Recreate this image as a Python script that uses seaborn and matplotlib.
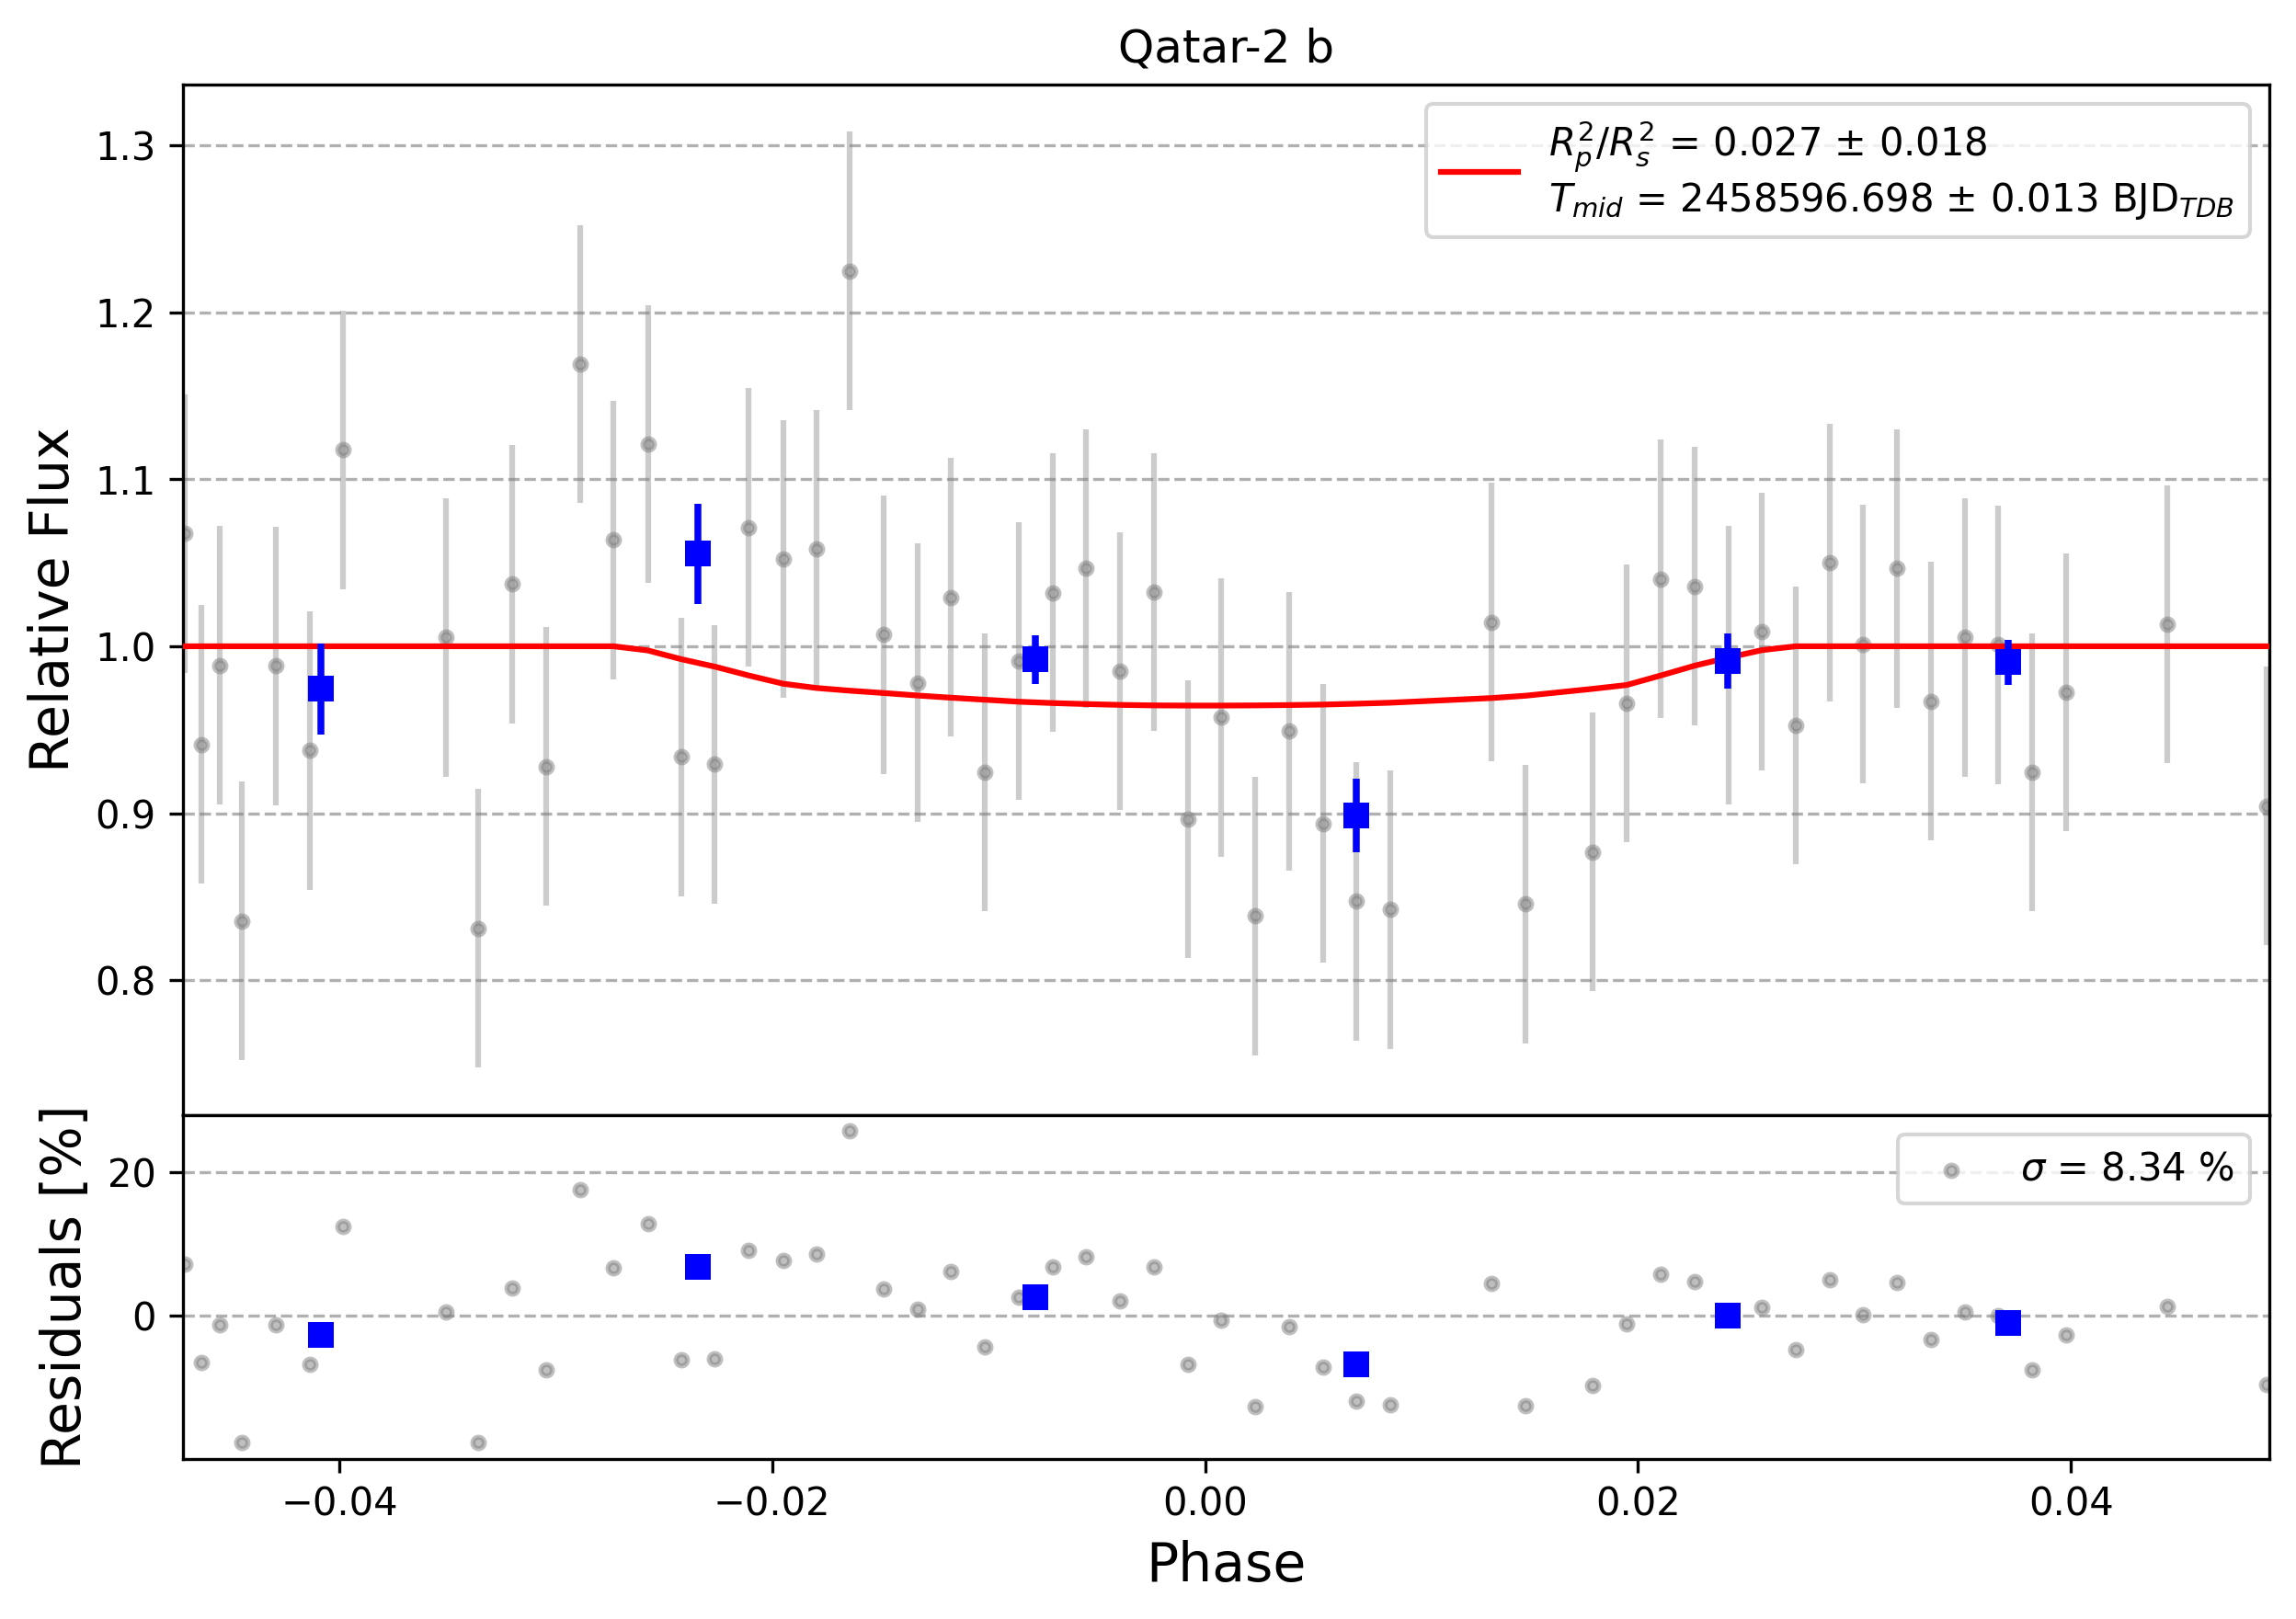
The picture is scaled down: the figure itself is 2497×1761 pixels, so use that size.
import numpy as np
import pandas as pd
import matplotlib
matplotlib.use("Agg")
import matplotlib.pyplot as plt
import seaborn as sns

# ---------------- data ----------------
phase = [-0.04715, -0.04635, -0.04550, -0.04449, -0.04291, -0.04135, -0.03983,
         -0.03508, -0.03357, -0.03201, -0.03042, -0.02886, -0.02733, -0.02574,
         -0.02418, -0.02265, -0.02108, -0.01950, -0.01794, -0.01640, -0.01484,
         -0.01326, -0.01174, -0.01018, -0.00860, -0.00704, -0.00550, -0.00392,
         -0.00236, -0.00078, 0.00074, 0.00232, 0.00388, 0.00544, 0.00698,
         0.00854, 0.01324, 0.01481, 0.01790, 0.01947, 0.02105, 0.02262,
         0.02417, 0.02573, 0.02729, 0.02886, 0.03040, 0.03195, 0.03353,
         0.03510, 0.03661, 0.03821, 0.03977, 0.04445, 0.04905]

flux = [1.0675, 0.9412, 0.9886, 0.8355, 0.9882, 0.9377, 1.1175,
        1.0053, 0.8311, 1.0373, 0.9281, 1.1689, 1.0636, 1.1211,
        0.9338, 0.9294, 1.0711, 1.0522, 1.0583, 1.2246, 1.0070,
        0.9781, 1.0294, 0.9246, 0.9912, 1.0320, 1.0465, 0.9851,
        1.0325, 0.8965, 0.9575, 0.8386, 0.9491, 0.8939, 0.8474,
        0.8425, 1.0145, 0.8458, 0.8768, 0.9658, 1.0404, 1.0360,
        0.9886, 1.0088, 0.9526, 1.0500, 1.0013, 1.0465, 0.9671,
        1.0053, 1.0009, 0.9246, 0.9724, 1.0132, 0.9044]

flux_err = 0.0833

model_flux = [1.0, 1.0, 1.0, 1.0, 1.0, 1.0, 1.0,
              1.0, 1.0, 1.0, 1.0, 1.0, 1.0, 0.9975,
              0.9922, 0.9878, 0.9825, 0.9776, 0.9750, 0.9734, 0.9720,
              0.9705, 0.9692, 0.9680, 0.9668, 0.9660, 0.9654, 0.9649,
              0.9646, 0.9645, 0.9645, 0.9646, 0.9648, 0.9651, 0.9656,
              0.9662, 0.9690, 0.9704, 0.9745, 0.9768, 0.9825, 0.9884,
              0.9932, 0.9977, 1.0, 1.0, 1.0, 1.0, 1.0,
              1.0, 1.0, 1.0, 1.0, 1.0, 1.0]

residual = [7.11, -6.51, -1.28, -17.73, -1.28, -6.77, 12.42,
            0.47, -17.73, 3.81, -7.62, 17.56, 6.64, 12.80,
            -6.21, -6.08, 9.08, 7.66, 8.61, 25.78, 3.73,
            0.90, 6.17, -4.41, 2.57, 6.77, 8.22, 2.01,
            6.77, -6.85, -0.69, -12.76, -1.58, -7.24, -11.99,
            -12.50, 4.45, -12.63, -9.76, -1.16, 5.78, 4.75,
            -0.40, 1.16, -4.75, 5.01, 0.13, 4.62, -3.34,
            0.47, 0.04, -7.58, -2.70, 1.24, -9.63]

bin_phase = [-0.04084, -0.02343, -0.00784, 0.00699, 0.02415, 0.03710]
bin_flux = [0.9746, 1.0553, 0.9921, 0.8987, 0.9912, 0.9904]
bin_err = [0.0272, 0.0298, 0.0145, 0.0222, 0.0167, 0.0136]
bin_residual = [-2.74, 6.77, 2.53, -6.85, -0.04, -1.07]

title = "Qatar-2 b"
fit_label = ("$R_{p}^{2}/R_{s}^{2}$ = 0.027 ± 0.018\n"
             "$T_{mid}$ = 2458596.698 ± 0.013 BJD$_{TDB}$")
sigma_label = r"$\sigma$ = 8.34 %"

# ---------------- plotting ----------------
df = pd.DataFrame({"phase": phase, "flux": flux, "model": model_flux,
                   "residual": residual})
dfb = pd.DataFrame({"phase": bin_phase, "flux": bin_flux, "err": bin_err,
                    "residual": bin_residual})

W, H, DPI = 2497, 1761, 300
fig, (ax1, ax2) = plt.subplots(2, 1, figsize=(W / DPI, H / DPI), dpi=DPI,
                               sharex=True,
                               gridspec_kw={"height_ratios": [3, 1]})
fig.subplots_adjust(left=199 / W, right=2467.5 / W, top=1 - 92 / H,
                    bottom=1 - 1586.7 / H, hspace=0)

# top panel
ax1.errorbar(df["phase"], df["flux"], yerr=flux_err, fmt="none",
             ecolor="gray", elinewidth=1.5, alpha=0.4, zorder=1)
sns.scatterplot(data=df, x="phase", y="flux", ax=ax1, color="gray",
                edgecolor="gray", s=9, linewidth=1.3, alpha=0.5, zorder=2,
                legend=False)
sns.lineplot(data=df, x="phase", y="model", ax=ax1, color="red",
             linewidth=1.5, sort=False, label=fit_label, zorder=3)
ax1.errorbar(dfb["phase"], dfb["flux"], yerr=dfb["err"], fmt="none",
             ecolor="blue", elinewidth=1.8, zorder=4)
sns.scatterplot(data=dfb, x="phase", y="flux", ax=ax1, color="blue",
                marker="s", s=48, linewidth=0, zorder=5, legend=False)

ax1.set_xlim(-0.047216, 0.04914)
ax1.set_ylim(0.7193, 1.3362)
ax1.set_yticks([0.8, 0.9, 1.0, 1.1, 1.2, 1.3])
ax1.grid(axis="y", linestyle="--")
ax1.set_axisbelow(True)
ax1.set_ylabel("Relative Flux", fontsize=14)
ax1.set_xlabel("")
ax1.set_title(title, fontsize=12)
ax1.legend(loc="upper right", fontsize=10)
ax1.tick_params(axis="x", labelbottom=False)

# bottom panel
sns.scatterplot(data=df, x="phase", y="residual", ax=ax2, color="gray",
                edgecolor="gray", s=9, linewidth=1.3, alpha=0.5, zorder=2,
                label=sigma_label)
sns.scatterplot(data=dfb, x="phase", y="residual", ax=ax2, color="blue",
                marker="s", s=48, linewidth=0, zorder=5, legend=False)
ax2.set_ylim(-20.0, 27.96)
ax2.set_yticks([0, 20])
ax2.set_xticks([-0.04, -0.02, 0.00, 0.02, 0.04])
ax2.set_xticklabels(["\u22120.04", "\u22120.02", "0.00", "0.02", "0.04"])
ax2.grid(axis="y", linestyle="--")
ax2.set_axisbelow(True)
ax2.set_ylabel("Residuals [%]", fontsize=14)
ax2.set_xlabel("Phase", fontsize=14)
ax2.legend(loc="upper right", fontsize=10)

fig.savefig("out.png", dpi=DPI)
